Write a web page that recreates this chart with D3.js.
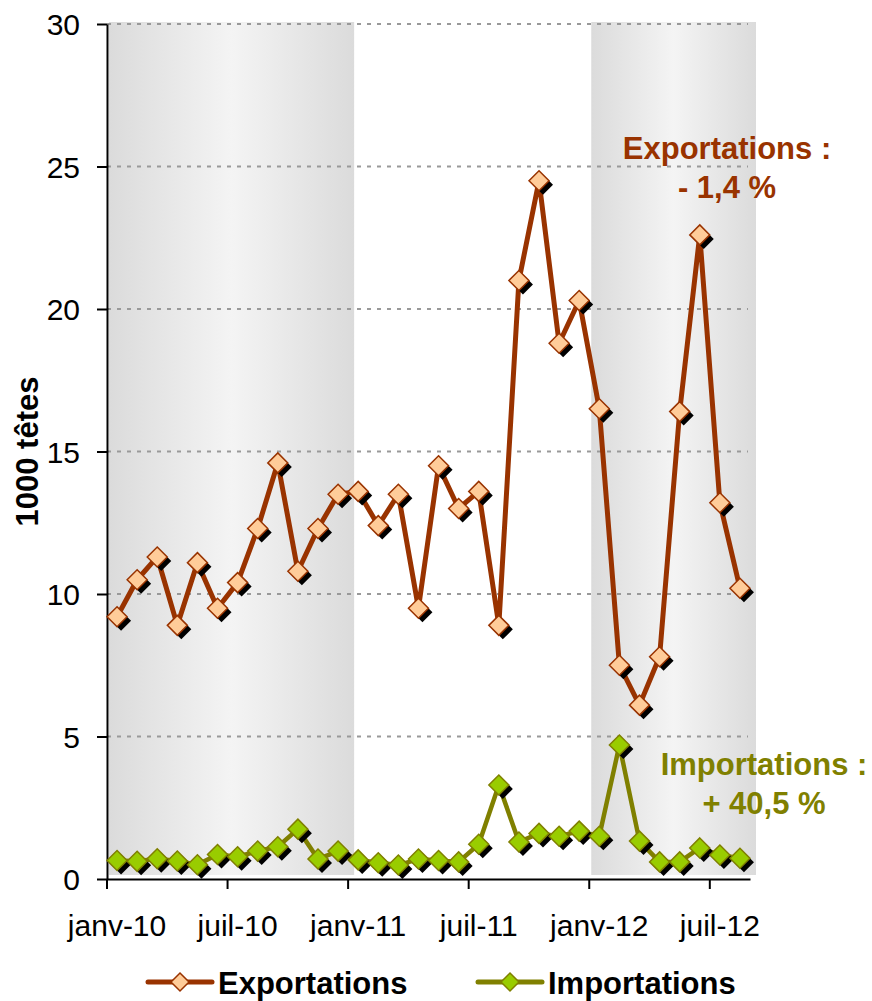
<!DOCTYPE html>
<html lang="fr">
<head>
<meta charset="utf-8">
<script src="https://cdn.jsdelivr.net/npm/d3@7"></script>
<style>
    html, body { margin: 0; padding: 0; background: #fff; }
    svg { display: block; font-family: "Liberation Sans", Arial, sans-serif; }
</style>
</head>
<body>
<div id="chart"></div>
<script>
// ============================================
// Données (1000 têtes)
// ============================================
const months = [
    'janv-10', 'févr-10', 'mars-10', 'avr-10', 'mai-10', 'juin-10',
    'juil-10', 'août-10', 'sept-10', 'oct-10', 'nov-10', 'déc-10',
    'janv-11', 'févr-11', 'mars-11', 'avr-11', 'mai-11', 'juin-11',
    'juil-11', 'août-11', 'sept-11', 'oct-11', 'nov-11', 'déc-11',
    'janv-12', 'févr-12', 'mars-12', 'avr-12', 'mai-12', 'juin-12',
    'juil-12', 'août-12'
];

const exportations = [
    9.2, 10.5, 11.3, 8.9, 11.1, 9.5, 10.4, 12.3, 14.6, 10.8, 12.3, 13.5,
    13.6, 12.4, 13.5, 9.5, 14.5, 13.0, 13.6, 8.9, 21.0, 24.5, 18.8, 20.3,
    16.5, 7.5, 6.1, 7.8, 16.4, 22.6, 13.2, 10.2
];

const importations = [
    0.65, 0.62, 0.71, 0.63, 0.5, 0.86, 0.78, 0.98, 1.13, 1.75, 0.7, 0.98,
    0.67, 0.57, 0.49, 0.7, 0.65, 0.6, 1.22, 3.3, 1.3, 1.6, 1.5, 1.68,
    1.5, 4.7, 1.33, 0.6, 0.6, 1.09, 0.84, 0.73
];

const xTicks = ['janv-10', 'juil-10', 'janv-11', 'juil-11', 'janv-12', 'juil-12'];
const yTicks = [0, 5, 10, 15, 20, 25, 30];

// années grisées
const shadedFrom = ['janv-10', 'janv-12'];
const shadedTo = ['déc-10', 'août-12'];

const series = [
    { name: 'Exportations', values: exportations, line: '#993300', fill: '#FFCC99', stroke: '#993300', width: 5,
      note: ['Exportations :', '- 1,4 %'], noteX: 727, noteY: 159, legendX: 148 },
    { name: 'Importations', values: importations, line: '#808000', fill: '#99CC00', stroke: '#808000', width: 4.5,
      note: ['Importations :', '+ 40,5 %'], noteX: 764, noteY: 775, legendX: 478 }
];

// ============================================
// Graphique
// ============================================
const W = 872, H = 1001;
const plot = { left: 107, right: 750, top: 24, bottom: 879 };

const svg = d3.select('#chart')
    .append('svg')
    .attr('width', W)
    .attr('height', H);

const x = d3.scaleBand()
    .domain(months)
    .range([plot.left, plot.right]);

const y = d3.scaleLinear()
    .domain([0, 30])
    .range([plot.bottom, plot.top]);

// dégradé des bandes grises
const grad = svg.append('defs')
    .append('linearGradient')
    .attr('id', 'band')
    .attr('x1', '0%').attr('x2', '100%')
    .attr('y1', '0%').attr('y2', '0%');
grad.append('stop').attr('offset', '0%').attr('stop-color', '#dbdbdb');
grad.append('stop').attr('offset', '50%').attr('stop-color', '#f4f4f4');
grad.append('stop').attr('offset', '100%').attr('stop-color', '#dbdbdb');

shadedFrom.forEach((m, i) => {
    const x0 = x(m) + 2;
    const x1 = x(shadedTo[i]) + x.bandwidth() + 6;
    svg.append('rect')
        .attr('x', x0)
        .attr('y', y(30) - 2)
        .attr('width', x1 - x0)
        .attr('height', y(0) - y(30) - 2)
        .attr('fill', 'url(#band)');
});

// lignes de grille
svg.append('g')
    .selectAll('line')
    .data(yTicks.filter(d => d > 0))
    .enter()
    .append('line')
    .attr('x1', plot.left)
    .attr('x2', plot.right - 2)
    .attr('y1', d => y(d))
    .attr('y2', d => y(d))
    .attr('stroke', '#999')
    .attr('stroke-width', 2)
    .attr('stroke-dasharray', '4,6');

// Axe Y
const yAxis = svg.append('g')
    .attr('transform', `translate(${plot.left},0)`)
    .call(d3.axisLeft(y)
        .tickValues(yTicks)
        .tickSize(10)
        .tickSizeOuter(0)
        .tickPadding(17));
yAxis.select('.domain').attr('stroke', '#000').attr('stroke-width', 2);
yAxis.selectAll('.tick line').attr('stroke', '#000').attr('stroke-width', 2);
yAxis.selectAll('text')
    .attr('dy', '0.36em')
    .style('font-size', '30px')
    .attr('fill', '#000');

// Axe X : libellés au centre du mois, graduations en début de mois
const xAxis = svg.append('g')
    .attr('transform', `translate(0,${plot.bottom})`)
    .call(d3.axisBottom(x)
        .tickValues(xTicks)
        .tickSize(0)
        .tickSizeOuter(0)
        .tickPadding(36));
xAxis.select('.domain').attr('stroke', '#000').attr('stroke-width', 2);
xAxis.selectAll('text')
    .style('font-size', '30px')
    .attr('fill', '#000');

xAxis.selectAll('.mark')
    .data(xTicks)
    .enter()
    .append('line')
    .attr('class', 'mark')
    .attr('x1', d => x(d))
    .attr('x2', d => x(d))
    .attr('y1', 0)
    .attr('y2', 10)
    .attr('stroke', '#000')
    .attr('stroke-width', 2);

// Titre axe Y
svg.append('text')
    .attr('transform', `translate(38,${(plot.top + plot.bottom) / 2}) rotate(-90)`)
    .attr('text-anchor', 'middle')
    .style('font-size', '31px')
    .style('font-weight', 'bold')
    .attr('fill', '#000')
    .text('1000 têtes');

// losange
const diamond = r => `M0,${-r}L${r},0L0,${r}L${-r},0Z`;
const cx = i => x(months[i]) + x.bandwidth() / 2;

series.forEach(s => {
    const line = d3.line()
        .x((d, i) => cx(i))
        .y(d => y(d));

    svg.append('path')
        .datum(s.values)
        .attr('fill', 'none')
        .attr('stroke', s.line)
        .attr('stroke-width', s.width)
        .attr('stroke-linejoin', 'round')
        .attr('d', line);

    const pts = svg.append('g')
        .selectAll('g')
        .data(s.values)
        .enter()
        .append('g')
        .attr('transform', (d, i) => `translate(${cx(i)},${y(d)})`);

    // ombre
    pts.append('path')
        .attr('d', diamond(10))
        .attr('transform', 'translate(4,4)')
        .attr('fill', '#000');

    pts.append('path')
        .attr('d', diamond(10))
        .attr('fill', s.fill)
        .attr('stroke', s.stroke)
        .attr('stroke-width', 1.5);

    // annotation
    const note = svg.append('text')
        .attr('text-anchor', 'middle')
        .style('font-size', '31px')
        .style('font-weight', 'bold')
        .attr('fill', s.line);
    s.note.forEach((t, k) => {
        note.append('tspan')
            .attr('x', s.noteX)
            .attr('y', s.noteY + k * 39)
            .text(t);
    });

    // légende
    const lg = svg.append('g')
        .attr('transform', `translate(${s.legendX},982)`);
    lg.append('line')
        .attr('x1', 0)
        .attr('x2', 64)
        .attr('stroke', s.line)
        .attr('stroke-width', 5)
        .attr('stroke-linecap', 'round');
    lg.append('path')
        .attr('d', diamond(9))
        .attr('transform', 'translate(32,0)')
        .attr('fill', s.fill)
        .attr('stroke', s.stroke)
        .attr('stroke-width', 1.5);
    lg.append('text')
        .attr('x', 70)
        .attr('y', 12)
        .style('font-size', '31px')
        .style('font-weight', 'bold')
        .attr('fill', '#000')
        .text(s.name);
});
</script>
</body>
</html>
